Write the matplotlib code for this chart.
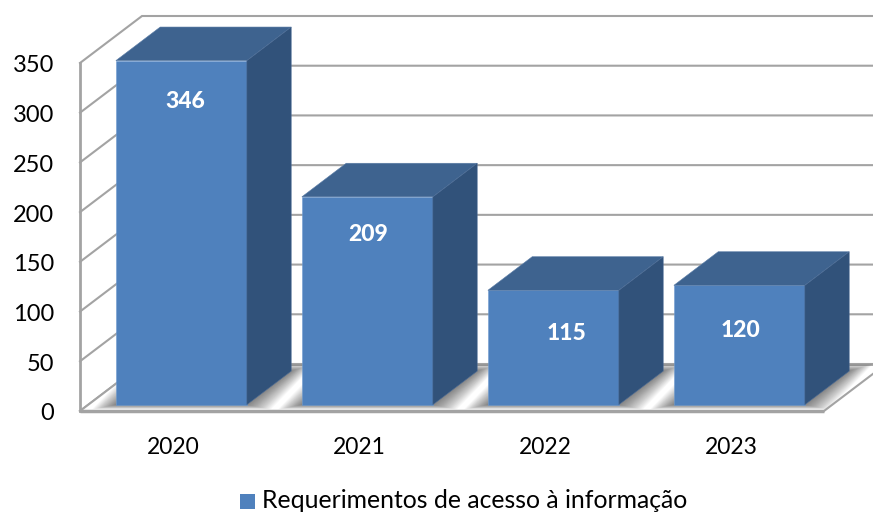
import matplotlib
matplotlib.use("Agg")
import matplotlib.pyplot as plt
from matplotlib.patches import Polygon, Rectangle

plt.rcParams['font.family'] = ['Lato', 'DejaVu Sans']

years = ['2020', '2021', '2022', '2023']
values = [346, 209, 115, 120]
y_ticks = [0, 50, 100, 150, 200, 250, 300, 350]
legend_label = 'Requerimentos de acesso à informação'

BLUE = '#4F81BD'
TOP = '#3E638F'
SIDE = '#31527A'
GRID = '#A3A3A3'

# pixel layout of the original: one axes over the whole figure
W, H = 873, 512
PX_X = 186.0           # px per category
PX_Y = 348 / 350.0     # px per unit
X0, Y0 = 173.0, 411.0  # category 0 / value 0 on the front plane

# depth offset of the back wall, in data units
WALL_DX = 62 / PX_X
WALL_DY = 47 / PX_Y
BAR_W = 131 / PX_X
BAR_FRONT = 0.135      # fraction of depth where bar starts
BAR_BACK = 0.85

# data label placement, hand set like in the original
label_y = [311, 178, 78, 81]
label_dx = [3.5, 0.5, 13, 1]


def depth(x, y, d):
    return (x + WALL_DX * d, y + WALL_DY * d)


fig = plt.figure(figsize=(W / 100, H / 100), dpi=100)
ax = fig.add_axes([0, 0, 1, 1])
ax.set_xlim(-X0 / PX_X, (W - X0) / PX_X)
ax.set_ylim((Y0 - H) / PX_Y, Y0 / PX_Y)
ax.axis('off')

left, right = -0.5, 3.5
top = y_ticks[-1]

# side wall and back wall gridlines
for t in y_ticks:
    ax.plot(*zip((left, t), depth(left, t, 1), (right + 1, t + WALL_DY)),
            color=GRID, lw=1.5, zorder=1, solid_joinstyle='miter')
ax.plot([left, left], [0, top], color=GRID, lw=2, zorder=1)

# floor
floor = Polygon([(left, 0), (right, 0), depth(right, 0, 1), depth(left, 0, 1)],
                fc='white', ec='none', zorder=1.5)
ax.add_patch(floor)
ax.plot(*zip(depth(left, 0, 1), (right + 1, WALL_DY)), color=GRID, lw=2, zorder=1.6)
ax.plot(*zip((left, 0), depth(left, 0, 1)), color=GRID, lw=1.5, zorder=1.6)

# soft shadow under the bars, stacked transparent shapes
for i in range(len(values)):
    x0 = i - BAR_W / 2
    x1 = i + BAR_W / 2
    for k in range(24):
        g = (24 - k) * 1.0
        gx = g / PX_X
        gy = g / PX_Y
        shadow = Polygon([
            (x0 + WALL_DX * BAR_FRONT - gx, WALL_DY * BAR_FRONT - gy * 0.2),
            (x1 + WALL_DX * BAR_FRONT + gx, WALL_DY * BAR_FRONT - gy * 0.2),
            (x1 + WALL_DX * BAR_BACK + gx, WALL_DY * BAR_BACK + gy * 0.3),
            (x0 + WALL_DX * BAR_BACK - gx, WALL_DY * BAR_BACK + gy * 0.3),
        ], fc='black', ec='none', alpha=0.022, zorder=2)
        ax.add_patch(shadow)
        shadow.set_clip_path(floor)

# front edge and right edge of the floor on top of the shadow
ax.plot([left, right], [0, 0], color=GRID, lw=2.5, zorder=2.5, solid_capstyle='butt')
ax.plot(*zip((right, 0), depth(right, 0, 1)), color=GRID, lw=1.5, zorder=2.5)

# bars
for i, v in enumerate(values):
    x0, y0 = depth(i - BAR_W / 2, 0, BAR_FRONT)
    x1 = x0 + BAR_W
    y1 = y0 + v
    d = BAR_BACK - BAR_FRONT
    ox, oy = WALL_DX * d, WALL_DY * d
    ax.add_patch(Rectangle((x0, y0), BAR_W, y1 - y0, fc=BLUE, ec='#6F9BCF', lw=0.4, zorder=3))
    ax.add_patch(Polygon([(x0, y1), (x1, y1), (x1 + ox, y1 + oy), (x0 + ox, y1 + oy)],
                         fc=TOP, ec='#5A7CA6', lw=0.4, zorder=3))
    ax.add_patch(Polygon([(x1, y0), (x1 + ox, y0 + oy), (x1 + ox, y1 + oy), (x1, y1)],
                         fc=SIDE, ec='#4A6A94', lw=0.4, zorder=3))

# data labels
for i, v in enumerate(values):
    x = i + WALL_DX * BAR_FRONT + label_dx[i] / PX_X
    ax.text(x, label_y[i], str(v), color='white', fontsize=16.5,
            fontweight='black', ha='center', va='center', zorder=4)

# tick labels
for t in y_ticks:
    ax.text(left - 26 / PX_X, t - 3 / PX_Y, str(t), fontsize=17, ha='right', va='center', color='black')
for i, y in enumerate(years):
    ax.text(i, -36 / PX_Y, y, fontsize=16.5, ha='center', va='center', color='black')

# legend
ax.add_patch(Rectangle(((240 - X0) / PX_X, (Y0 - 509) / PX_Y), 15 / PX_X, 15 / PX_Y,
                       fc=BLUE, ec='none'))
ax.text((262 - X0) / PX_X, (Y0 - 500) / PX_Y, legend_label, fontsize=17.8,
        ha='left', va='center', color='black')

fig.savefig('out.png', dpi=100)
